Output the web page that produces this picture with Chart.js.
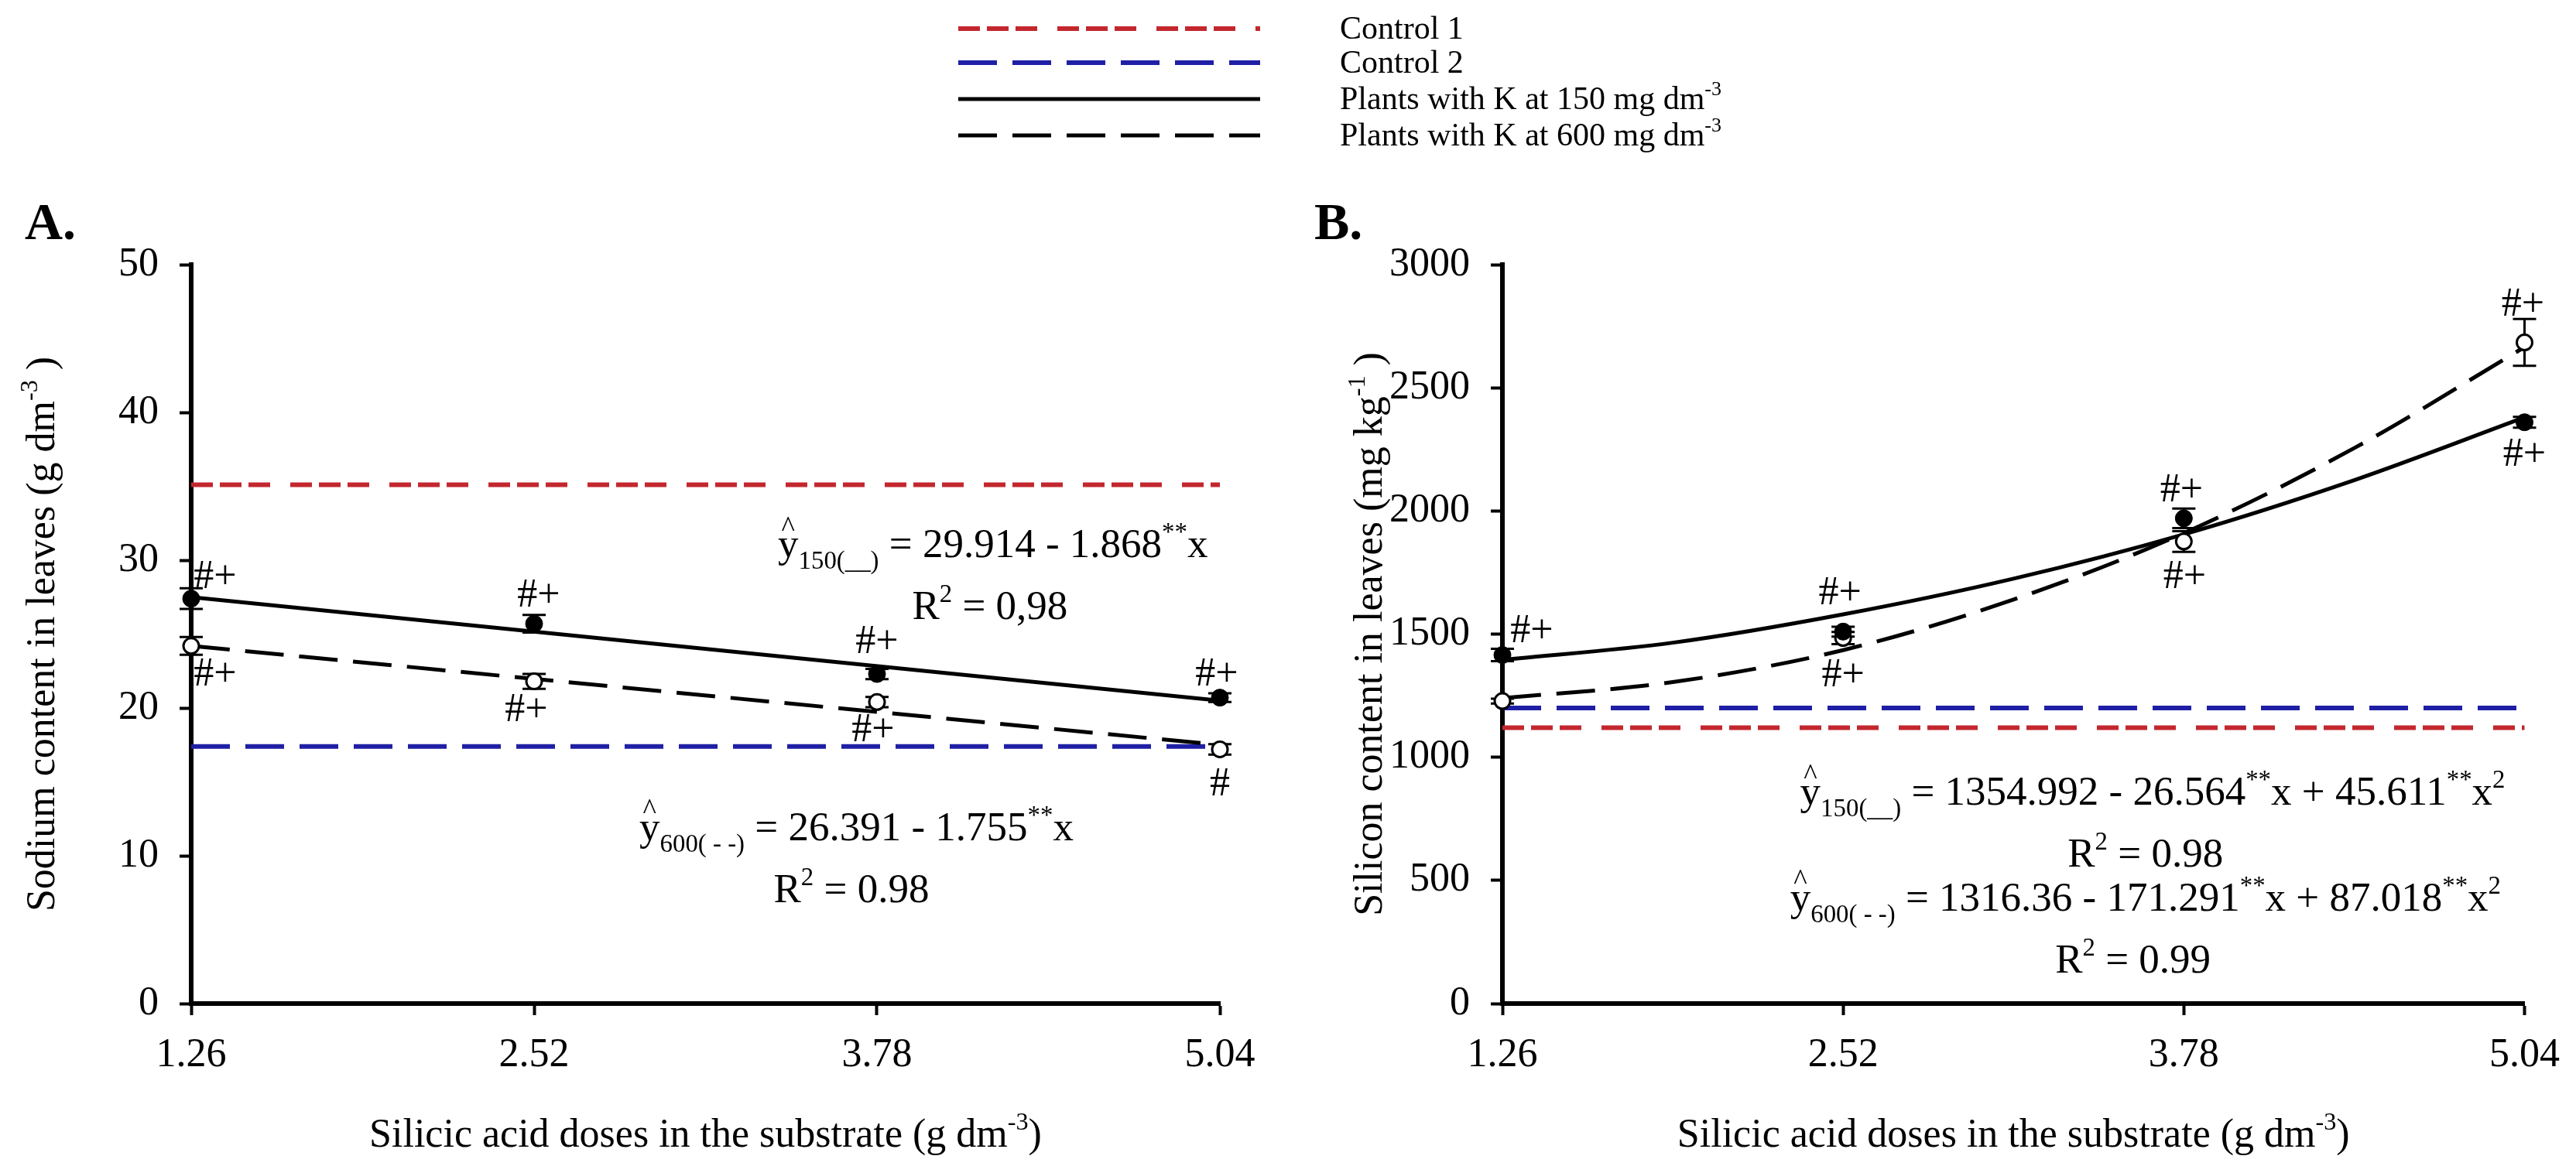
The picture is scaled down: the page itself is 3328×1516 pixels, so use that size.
<!DOCTYPE html>
<html>
<head>
<meta charset="utf-8">
<script src="https://cdn.jsdelivr.net/npm/chart.js@4.4.1/dist/chart.umd.min.js"></script>
<style>
  html, body { margin: 0; padding: 0; background: #fff; }
  .panel { position: absolute; left: 0; top: 0; width: 3328px; height: 1516px; }
</style>
</head>
<body>
<div class="panel"><canvas id="chartA"></canvas></div>
<div class="panel"><canvas id="chartB"></canvas></div>
<script>
// silicic acid doses (x axis ticks and measured points)
const doses = [1.26, 2.52, 3.78, 5.04];

// Panel A - sodium content in leaves (g dm-3)
const na150 = [27.4, 25.7, 22.3, 20.7];
const na150Err = [0.7, 0.6, 0.35, 0.3];
const na600 = [24.2, 21.8, 20.4, 17.2];
const na600Err = [0.6, 0.5, 0.35, 0.35];
const naFitDoses = [1.26, 5.04];
const naFit150 = [27.5, 20.5];
const naFit600 = [24.2, 17.5];
const naControl1 = [35.1, 35.1];
const naControl2 = [17.4, 17.4];
const naMarks150 = ['#+', '#+', '#+', '#+'];
const naMarks600 = ['#+', '#+', '#+', '#'];

// Panel B - silicon content in leaves (mg kg-1)
const si150 = [1415, 1510, 1970, 2360];
const si150Err = [25, 20, 40, 22];
const si600 = [1228, 1484, 1876, 2684];
const si600Err = [10, 25, 42, 95];
const siFitDoses = [1.26, 1.89, 2.52, 3.15, 3.78, 4.41, 5.04];
const siFit150 = [1395, 1465, 1580, 1725, 1905, 2125, 2380];
const siFit600 = [1240, 1305, 1435, 1640, 1910, 2255, 2665];
const siControl1 = [1120, 1120];
const siControl2 = [1200, 1200];
const siMarks150 = ['#+', '#+', '#+', '#+'];
const siMarks600 = ['', '#+', '#+', '#+'];

const SERIF = "'Liberation Serif', 'Times New Roman', serif";
const RED = '#c3272e';
const BLUE = '#1f1fa6';
const RED_DASH = [28, 9, 28, 9, 28, 26];
const LONG_DASH = [50, 20];

function partFont(p, size) {
  const s = (p[1] === 'sup' || p[1] === 'sub') ? size * 0.62 : size;
  return (p[1] === 'bold' ? 'bold ' : '') + s + 'px ' + SERIF;
}

function drawRich(ctx, parts, x, y, size, align) {
  let w = 0;
  parts.forEach(p => { ctx.font = partFont(p, size); w += ctx.measureText(p[0]).width; });
  let cx = align === 'center' ? x - w / 2 : (align === 'right' ? x - w : x);
  ctx.textAlign = 'left';
  ctx.textBaseline = 'alphabetic';
  ctx.fillStyle = '#000';
  parts.forEach(p => {
    ctx.font = partFont(p, size);
    const tw = ctx.measureText(p[0]).width;
    let dy = 0;
    if (p[1] === 'sup') dy = -size * 0.42;
    if (p[1] === 'sub') dy = size * 0.28;
    ctx.fillText(p[0], cx, y + dy);
    if (p[1] === 'hat') {
      ctx.font = (size * 0.7) + 'px ' + SERIF;
      ctx.textAlign = 'center';
      ctx.fillText('^', cx + tw / 2, y - size * 0.52);
      ctx.textAlign = 'left';
    }
    cx += tw;
  });
}

const xy = (xs, ys) => xs.map((x, i) => ({ x: x, y: ys[i] }));

function lineSet(label, xs, ys, color, dash, width, curved) {
  return {
    label: label, data: xy(xs, ys), showLine: true, borderColor: color,
    borderDash: dash, borderWidth: width, pointRadius: 0, fill: false,
    cubicInterpolationMode: curved ? 'monotone' : 'default', clip: false
  };
}

function pointSet(label, ys, errs, marks, offsets, open) {
  return {
    label: label, data: xy(doses, ys), showLine: false, clip: false,
    pointRadius: open ? 10 : 11,
    pointBackgroundColor: open ? '#fff' : '#000',
    pointBorderColor: '#000', pointBorderWidth: open ? 3 : 1,
    errorBars: errs, marks: marks, markOffsets: offsets
  };
}

function panelPlugin(cfg) {
  return {
    id: 'panel' + cfg.name,
    beforeDatasetsDraw(chart) {
      const ctx = chart.ctx, xs = chart.scales.x, ys = chart.scales.y;
      ctx.save();
      ctx.strokeStyle = '#000';
      ctx.lineWidth = 3;
      chart.data.datasets.forEach(ds => {
        if (!ds.errorBars) return;
        ds.data.forEach((d, i) => {
          const px = xs.getPixelForValue(d.x);
          const top = ys.getPixelForValue(d.y + ds.errorBars[i]);
          const bot = ys.getPixelForValue(d.y - ds.errorBars[i]);
          ctx.beginPath();
          ctx.moveTo(px, top); ctx.lineTo(px, bot);
          ctx.moveTo(px - 15, top); ctx.lineTo(px + 15, top);
          ctx.moveTo(px - 15, bot); ctx.lineTo(px + 15, bot);
          ctx.stroke();
        });
      });
      ctx.restore();
    },
    afterDatasetsDraw(chart) {
      const ctx = chart.ctx, xs = chart.scales.x, ys = chart.scales.y;
      const area = chart.chartArea;
      ctx.save();
      // significance marks next to the means
      chart.data.datasets.forEach(ds => {
        if (!ds.marks) return;
        ds.data.forEach((d, i) => {
          if (!ds.marks[i]) return;
          const o = ds.markOffsets[i];
          drawRich(ctx, [[ds.marks[i]]], xs.getPixelForValue(d.x) + o[0],
            ys.getPixelForValue(d.y) + o[1], 52, 'center');
        });
      });
      // regression equations
      cfg.equations.forEach(eq => {
        drawRich(ctx, eq.parts, xs.getPixelForValue(eq.x), ys.getPixelForValue(eq.y), 53, eq.align);
      });
      // panel letter
      drawRich(ctx, [[cfg.letter, 'bold']], area.left + cfg.letterDx, area.top - 33, 68, 'left');
      // x title
      drawRich(ctx, cfg.xTitle, (area.left + area.right) / 2, area.bottom + 185, 52, 'center');
      // y title
      ctx.save();
      ctx.translate(area.left + cfg.yTitleDx, (area.top + area.bottom) / 2);
      ctx.rotate(-Math.PI / 2);
      drawRich(ctx, cfg.yTitle, 0, 17, 52, 'center');
      ctx.restore();
      ctx.restore();
    },
    afterDraw(chart) {
      if (!cfg.legend) return;
      const ctx = chart.ctx, lg = cfg.legend;
      ctx.save();
      lg.items.forEach((it, i) => {
        const ds = chart.data.datasets.find(d => d.label === it.label);
        const y = lg.rows[i];
        ctx.beginPath();
        ctx.setLineDash(ds.borderDash || []);
        ctx.strokeStyle = ds.borderColor;
        ctx.lineWidth = ds.borderWidth;
        ctx.moveTo(lg.x0, y); ctx.lineTo(lg.x1, y);
        ctx.stroke();
        ctx.setLineDash([]);
        drawRich(ctx, it.parts, lg.textX, y + 13, 42, 'left');
      });
      ctx.restore();
    }
  };
}

function buildPanel(id, cfg) {
  const tickFont = { family: SERIF, size: 52 };
  return new Chart(document.getElementById(id), {
    type: 'scatter',
    data: { datasets: cfg.datasets },
    options: {
      responsive: true, maintainAspectRatio: false, animation: false,
      devicePixelRatio: 1,
      layout: { padding: { left: cfg.padLeft, right: cfg.padRight, top: 342, bottom: 0 } },
      plugins: { legend: { display: false }, tooltip: { enabled: false } },
      scales: {
        x: {
          type: 'linear', min: doses[0], max: doses[doses.length - 1],
          afterBuildTicks: s => { s.ticks = doses.map(v => ({ value: v })); },
          afterFit: s => { s.height = 219; },
          ticks: { callback: v => v.toFixed(2), color: '#000', font: tickFont, padding: 21, maxRotation: 0, autoSkip: false },
          grid: { drawOnChartArea: false, tickLength: 15, tickWidth: 4, tickColor: '#000' },
          border: { color: '#000', width: 6 }
        },
        y: {
          min: 0, max: cfg.yMax,
          afterFit: s => { s.width = cfg.yWidth; },
          ticks: { stepSize: cfg.yStep, callback: v => String(v), color: '#000', font: tickFont, padding: 27 },
          grid: { drawOnChartArea: false, tickLength: 15, tickWidth: 4, tickColor: '#000' },
          border: { color: '#000', width: 6 }
        }
      }
    },
    plugins: [panelPlugin(cfg)]
  });
}

const legendItems = [
  { label: 'Control 1', parts: [['Control 1']] },
  { label: 'Control 2', parts: [['Control 2']] },
  { label: 'Plants with K at 150 mg dm-3', parts: [['Plants with K at 150 mg dm'], ['-3', 'sup']] },
  { label: 'Plants with K at 600 mg dm-3', parts: [['Plants with K at 600 mg dm'], ['-3', 'sup']] }
];

const xTitle = [['Silicic acid doses in the substrate (g dm'], ['-3', 'sup'], [')']];

buildPanel('chartA', {
  name: 'A', letter: 'A.', letterDx: -215, yTitleDx: -194,
  padLeft: 0, padRight: 1752, yWidth: 247, yMax: 50, yStep: 10,
  xTitle: xTitle,
  yTitle: [['Sodium content in leaves (g dm'], ['-3', 'sup'], [' )']],
  datasets: [
    pointSet('Na 150', na150, na150Err, naMarks150, [[31, -14], [6, -22], [0, -27], [-4, -16]], false),
    pointSet('Na 600', na600, na600Err, naMarks600, [[31, 51], [-10, 51], [-5, 51], [0, 60]], true),
    lineSet('Plants with K at 150 mg dm-3', naFitDoses, naFit150, '#000', [], 5, false),
    lineSet('Plants with K at 600 mg dm-3', naFitDoses, naFit600, '#000', LONG_DASH, 5, false),
    lineSet('Control 2', naFitDoses, naControl2, BLUE, LONG_DASH, 6, false),
    lineSet('Control 1', naFitDoses, naControl1, RED, RED_DASH, 6, false)
  ],
  equations: [
    { x: 3.416, y: 30.2, align: 'left', parts: [['y', 'hat'], ['150(__)', 'sub'], [' = 29.914 - 1.868'], ['**', 'sup'], ['x']] },
    { x: 4.195, y: 26.0, align: 'center', parts: [['R'], ['2', 'sup'], [' = 0,98']] },
    { x: 2.907, y: 11.05, align: 'left', parts: [['y', 'hat'], ['600( - -)', 'sub'], [' = 26.391 - 1.755'], ['**', 'sup'], ['x']] },
    { x: 3.686, y: 6.86, align: 'center', parts: [['R'], ['2', 'sup'], [' = 0.98']] }
  ],
  legend: { x0: 1238, x1: 1628, textX: 1731, rows: [37, 81, 128, 175], items: legendItems }
});

buildPanel('chartB', {
  name: 'B', letter: 'B.', letterDx: -243, yTitleDx: -173,
  padLeft: 1691, padRight: 58, yWidth: 250, yMax: 3000, yStep: 500,
  xTitle: xTitle,
  yTitle: [['Silicon content in leaves (mg kg'], ['-1', 'sup'], [' )']],
  datasets: [
    pointSet('Si 150', si150, si150Err, siMarks150, [[38, -17], [-4, -35], [-3, -22], [0, 56]], false),
    pointSet('Si 600', si600, si600Err, siMarks600, [[0, 0], [0, 62], [1, 60], [-2, -35]], true),
    lineSet('Plants with K at 150 mg dm-3', siFitDoses, siFit150, '#000', [], 5, true),
    lineSet('Plants with K at 600 mg dm-3', siFitDoses, siFit600, '#000', LONG_DASH, 5, true),
    lineSet('Control 2', naFitDoses, siControl2, BLUE, LONG_DASH, 6, false),
    lineSet('Control 1', naFitDoses, siControl1, RED, RED_DASH, 6, false)
  ],
  equations: [
    { x: 2.361, y: 807, align: 'left', parts: [['y', 'hat'], ['150(__)', 'sub'], [' = 1354.992 - 26.564'], ['**', 'sup'], ['x + 45.611'], ['**', 'sup'], ['x'], ['2', 'sup']] },
    { x: 3.638, y: 556, align: 'center', parts: [['R'], ['2', 'sup'], [' = 0.98']] },
    { x: 2.324, y: 377, align: 'left', parts: [['y', 'hat'], ['600( - -)', 'sub'], [' = 1316.36 - 171.291'], ['**', 'sup'], ['x + 87.018'], ['**', 'sup'], ['x'], ['2', 'sup']] },
    { x: 3.592, y: 126, align: 'center', parts: [['R'], ['2', 'sup'], [' = 0.99']] }
  ]
});
</script>
</body>
</html>
